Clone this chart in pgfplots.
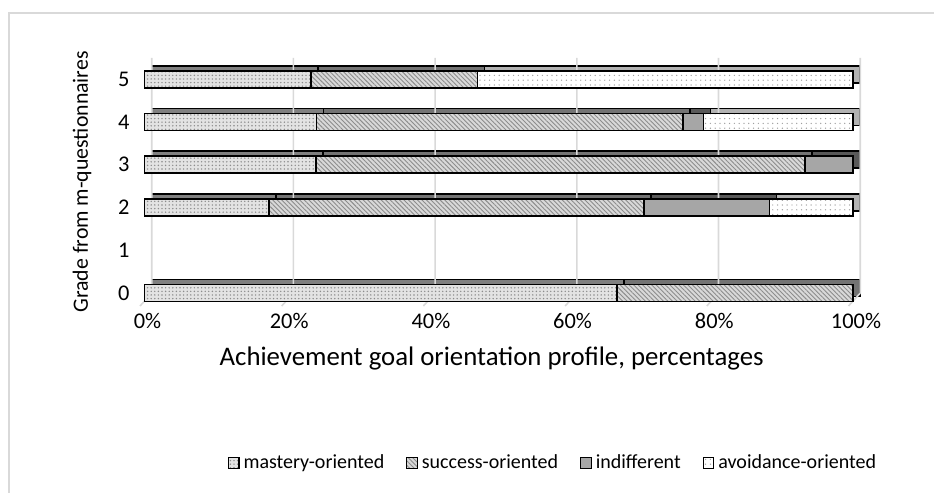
\documentclass[border=0pt]{standalone}
\usepackage{pgfplots}
\pgfplotsset{compat=1.18}
\usepackage{pgfplotstable}
\usetikzlibrary{patterns.meta}
\usepackage{fontspec}
\setmainfont{Carlito}

% share of each achievement goal orientation profile per grade, in percent
\pgfplotstableread{
grade mastery success indifferent avoidance
0 66.7 33.3 0    0
1 0    0    0    0
2 17.6 52.9 17.7 11.8
3 24.2 69.0 6.8  0
4 24.3 51.7 2.9  21.1
5 23.5 23.5 0    53.0
}\profiles

\pgfplotsset{
  profile axis/.style={
    scale only axis, width=354.25pt, height=124.1pt,
    anchor=south west, at={(72.25pt,93.5pt)},
    xmin=0, xmax=100, ymin=-0.3, ymax=5.5,
    xbar stacked, bar width=8.5pt, clip=false,
  },
  bar edge/.style={draw=black, line width=0.8pt},
}

\begin{document}
\begin{tikzpicture}
\useasboundingbox (0,0) rectangle (467pt,246.5pt);
\draw[gray!30, line width=0.6pt] (4.5pt,-10pt) rectangle (480pt,240pt);

% back: walls and the top/side faces of the bars
\begin{axis}[profile axis, hide axis]
\pgfplotsinvokeforeach{0,20,40,60,80,100}{
  \draw[gray!30, line width=0.8pt]
    ([xshift=3.6pt]axis cs:#1,5.5) -- ([xshift=3.6pt]axis cs:#1,0)
    -- ([xshift=-2.25pt]axis cs:#1,-0.3);
}
\addplot[bar edge, fill=black!50, xshift=3.5pt, yshift=2.5pt] table[x=mastery, y=grade] {\profiles};
\addplot[bar edge, fill=black!55, xshift=3.5pt, yshift=2.5pt] table[x=success, y=grade] {\profiles};
\addplot[bar edge, fill=black!65, xshift=3.5pt, yshift=2.5pt] table[x=indifferent, y=grade] {\profiles};
\addplot[bar edge, fill=black!30, xshift=3.5pt, yshift=2.5pt] table[x=avoidance, y=grade] {\profiles};
\end{axis}

% front faces, ticks, labels, legend
\begin{axis}[profile axis,
  axis line style={draw=none}, major tick length=0pt,
  /pgf/number format/assume math mode=true,
  tick label style={font=\fontsize{11.2}{13}\selectfont},
  xtick={0,20,40,60,80,100},
  xticklabel={\pgfmathprintnumber{\tick}\%},
  xticklabel style={xshift=1.5pt},
  ytick={0,1,2,3,4,5},
  yticklabel style={xshift=-4pt},
  xlabel={Achievement goal orientation profile, percentages},
  ylabel={Grade from m-questionnaires},
  xlabel style={font=\fontsize{13.4}{15}\selectfont,
    at={(axis description cs:0.49,-0.21)}, anchor=center},
  ylabel style={font=\fontsize{10.9}{13}\selectfont,
    at={(axis description cs:-0.088,0.5)}, anchor=center},
  legend columns=4,
  legend style={at={(axis description cs:0.578,-0.6325)}, anchor=center,
    draw=none, font=\fontsize{10}{12}\selectfont,
    /tikz/every even column/.append style={column sep=9pt}},
  legend image code/.code={\draw[#1, line width=0.6pt] (0pt,-2.6pt) rectangle (5.2pt,2.6pt);},
]
\addplot[bar edge, fill=gray!22,
  postaction={pattern={Dots[distance=1.8pt, radius=0.4pt]}, pattern color=gray!90}]
  table[x=mastery, y=grade] {\profiles};
\addplot[bar edge, fill=gray!30,
  postaction={pattern={Lines[angle=-45, distance=1.6pt, line width=0.45pt]}, pattern color=gray!90}]
  table[x=success, y=grade] {\profiles};
\addplot[bar edge, fill=gray!70] table[x=indifferent, y=grade] {\profiles};
\addplot[bar edge, fill=white,
  postaction={pattern={Dots[distance=2.4pt, radius=0.35pt]}, pattern color=gray!75}]
  table[x=avoidance, y=grade] {\profiles};
\legend{mastery-oriented, success-oriented, indifferent, avoidance-oriented}
\end{axis}
\end{tikzpicture}
\end{document}
